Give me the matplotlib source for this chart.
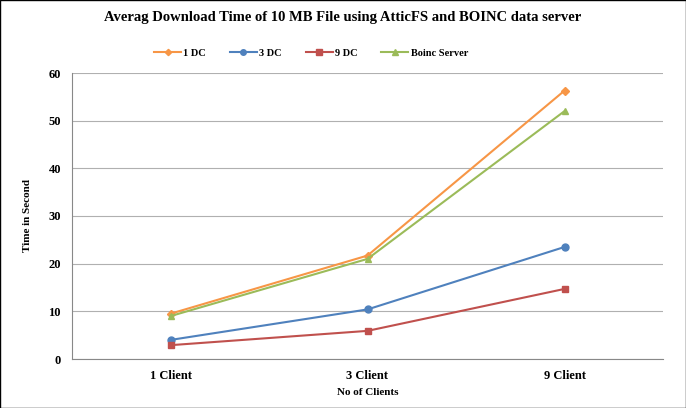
import matplotlib
matplotlib.use('Agg')
import matplotlib.pyplot as plt
from matplotlib.patches import Rectangle

CLIENTS = ['1 Client', '3 Client', '9 Client']
DC1 = [9.5, 21.7, 56.3]
DC3 = [4.0, 10.4, 23.5]
DC9 = [2.9, 5.9, 14.7]
BOINC = [9.0, 21.0, 52.0]

plt.rcParams['font.family'] = ['Liberation Serif', 'DejaVu Serif']
plt.rcParams['font.weight'] = 'bold'

fig = plt.figure(figsize=(6.86, 4.08), dpi=100)
ax = fig.add_axes([72 / 686, 1 - 359 / 408, 591 / 686, 286 / 408])

x = range(len(CLIENTS))
ax.plot(x, DC1, color='#F79646', marker='D', markersize=4, lw=1.5, label='1 DC')
ax.plot(x, DC3, color='#4F81BD', marker='o', markersize=5, lw=1.5, label='3 DC')
ax.plot(x, DC9, color='#C0504D', marker='s', markersize=5, lw=1.5, label='9 DC')
ax.plot(x, BOINC, color='#9BBB59', marker='^', markersize=5, lw=1.5, label='Boinc Server')

ax.set_xlim(-0.5, 2.5)
ax.set_ylim(0, 60)
ax.set_yticks(range(0, 61, 10))
ax.set_xticks(list(x))
ax.set_xticklabels(CLIENTS)
ax.tick_params(axis='both', labelsize=9, length=0, pad=8)
ax.grid(axis='y', color='#b0b0b0', lw=0.8)
ax.set_axisbelow(True)
for s in ['top', 'right']:
    ax.spines[s].set_visible(False)
for s in ['left', 'bottom']:
    ax.spines[s].set_color('#888888')

ax.set_ylabel('Time in Second', fontsize=8, fontweight='bold', labelpad=12)
ax.set_xlabel('No of Clients', fontsize=8, fontweight='bold', labelpad=4)

fig.text(0.5, 1 - 17 / 408, 'Averag Download Time of 10 MB File using AtticFS and BOINC data server',
         ha='center', va='center', fontsize=10.5, fontweight='bold')
fig.legend(loc='center', bbox_to_anchor=(311 / 686, 1 - 53 / 408), ncol=4, frameon=False,
           fontsize=7.5, handlelength=2.6, columnspacing=2.3, handletextpad=0.2,
           markerscale=0.8)

fig.patches.append(Rectangle((0, 0), 1, 1, transform=fig.transFigure, fill=False,
                             edgecolor='black', lw=1))
fig.savefig('out.png', dpi=100)
